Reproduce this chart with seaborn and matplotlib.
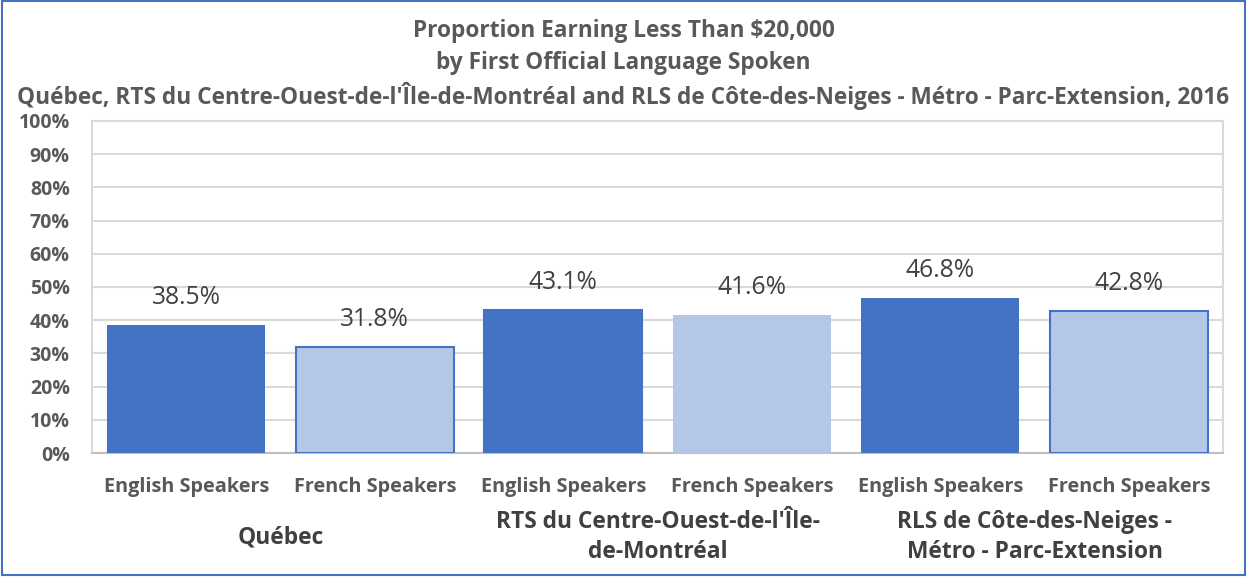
import pandas as pd
import matplotlib.pyplot as plt
import seaborn as sns
from matplotlib.patches import Rectangle

# data
regions = ["Québec", "RTS du Centre-Ouest-de-l'Île-\nde-Montréal", "RLS de Côte-des-Neiges -\nMétro - Parc-Extension"]
languages = ["English Speakers", "French Speakers"]
values = [38.5, 31.8, 43.1, 41.6, 46.8, 42.8]
yticks = [0, 10, 20, 30, 40, 50, 60, 70, 80, 90, 100]

bar_ids = [f"{r}|{l}" for r in regions for l in languages]
df = pd.DataFrame({
    "bar": bar_ids,
    "language": [l for r in regions for l in languages],
    "value": values,
})

sns.set_style("white")
plt.rcParams['font.family'] = ['Open Sans', 'DejaVu Sans']

fig = plt.figure(figsize=(12.47, 5.77), dpi=100)
ax = fig.add_axes([0.0738, 0.2149, 0.907, 0.5754])

palette = {"English Speakers": "#4472C4", "French Speakers": "#B4C7E7"}
sns.barplot(data=df, x="bar", y="value", hue="language", palette=palette,
            dodge=False, width=0.84, saturation=1, legend=False, ax=ax, zorder=3)

for p, lang in zip(ax.patches, df["language"]):
    p.set_edgecolor("#4472C4")
    p.set_linewidth(1.5 if lang == "French Speakers" else 0)

# data labels
for i, v in enumerate(values):
    ax.text(i, v + 4.5, f"{v:.1f}%", ha="center", va="bottom",
            fontsize=17.7, color="#404040")

ax.set_ylim(0, 100)
ax.set_xlim(-0.5, 5.5)
ax.set_yticks(yticks)
ax.set_yticklabels([f"{t}%" for t in yticks], fontsize=14, fontweight="bold", color="#595959")
ax.set_xticks(range(6))
ax.set_xticklabels(languages * 3, fontsize=14.3, fontweight="bold", color="#595959")
ax.tick_params(axis="both", length=0)
ax.tick_params(axis="y", pad=16)
ax.tick_params(axis="x", pad=17)
ax.set_xlabel("")
ax.set_ylabel("")
ax.grid(axis="y", color="#D9D9D9", linewidth=1.5, zorder=0)
for s in ax.spines.values():
    s.set_color("#D9D9D9")
    s.set_linewidth(1.5)
ax.spines["bottom"].set_color("#BFBFBF")

# group labels under the category labels
for g, r in enumerate(regions):
    ax.text(2 * g + 0.5, -25.3, r, ha="center", va="center", transform=ax.transData,
            fontsize=16.4, fontweight="bold", color="#404040", linespacing=1.33,
            clip_on=False)

# title
title_lines = [
    "Proportion Earning Less Than $20,000",
    "by First Official Language Spoken",
    "Québec, RTS du Centre-Ouest-de-l'Île-de-Montréal and RLS de Côte-des-Neiges - Métro - Parc-Extension, 2016",
]
for line, ypx in zip(title_lines, [31, 63, 96]):
    fig.text(0.5, 1 - ypx / 577, line, ha="center", va="center",
             fontsize=16.3, fontweight="bold", color="#595959")

# outer border of the chart area
fig.patches.append(Rectangle((0.002, 0.004), 0.996, 0.994, transform=fig.transFigure,
                             fill=False, edgecolor="#4472C4", linewidth=1.5))

fig.savefig("out.png", dpi=100)
